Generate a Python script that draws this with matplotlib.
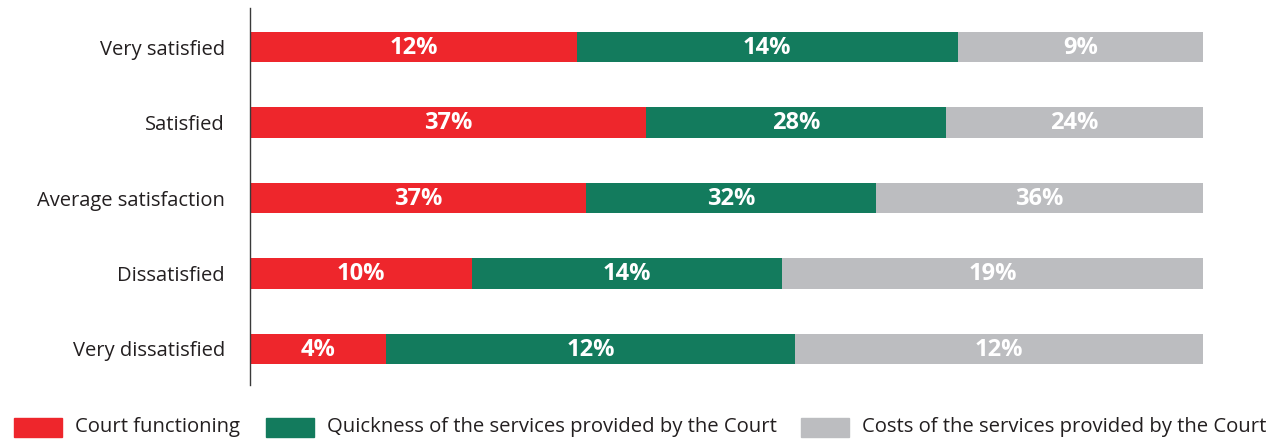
import matplotlib
matplotlib.use("Agg")
import matplotlib.pyplot as plt
from matplotlib.patches import Rectangle
import numpy as np

categories = ["Very satisfied", "Satisfied", "Average satisfaction", "Dissatisfied", "Very dissatisfied"]
series_names = ["Court functioning",
                "Quickness of the services provided by the Court",
                "Costs of the services provided by the Court"]
court_functioning = [12, 37, 37, 10, 4]
quickness = [14, 28, 32, 14, 12]
costs = [9, 24, 36, 19, 12]
colors = ["#EE262C", "#137B5D", "#BCBDC0"]

plt.rcParams['font.family'] = ['Open Sans', 'DejaVu Sans']

W, H = 1283, 440
fig = plt.figure(figsize=(W / 100, H / 100), dpi=100)
ax = fig.add_axes([250 / W, 1 - 385 / H, 953 / W, (385 - 8) / H])

data = np.array([court_functioning, quickness, costs], dtype=float)
totals = data.sum(axis=0)
shares = data / totals
y = np.arange(len(categories))
left = np.zeros(len(categories))
for i in range(3):
    bars = ax.barh(y, shares[i], left=left, height=0.4, color=colors[i], edgecolor='none')
    for j, b in enumerate(bars):
        ax.text(left[j] + shares[i][j] / 2, y[j] + 0.01, f"{int(data[i][j])}%",
                ha='center', va='center', color='white', fontsize=17, fontweight='bold')
    left += shares[i]

ax.set_xlim(0, 1)
ax.set_ylim(4 + 0.477, -0.517)
ax.set_yticks(y)
ax.set_yticklabels(categories, fontsize=14.5, color='#231F20')
ax.tick_params(axis='y', length=0, pad=18)
ax.set_xticks([])
for s in ['top', 'right', 'bottom']:
    ax.spines[s].set_visible(False)
ax.spines['left'].set_color('#3a3a3a')
ax.spines['left'].set_linewidth(1.0)

# legend
patch_x = [14, 266, 801]
for px, name, c in zip(patch_x, series_names, colors):
    fig.patches.append(Rectangle((px / W, 1 - 437 / H), 48 / W, 19 / H,
                                 transform=fig.transFigure, color=c, edgecolor='none'))
    fig.text((px + 61) / W, 1 - 427 / H, name, fontsize=14.6, color='#231F20',
             ha='left', va='center')

fig.savefig("out.png", dpi=100)
